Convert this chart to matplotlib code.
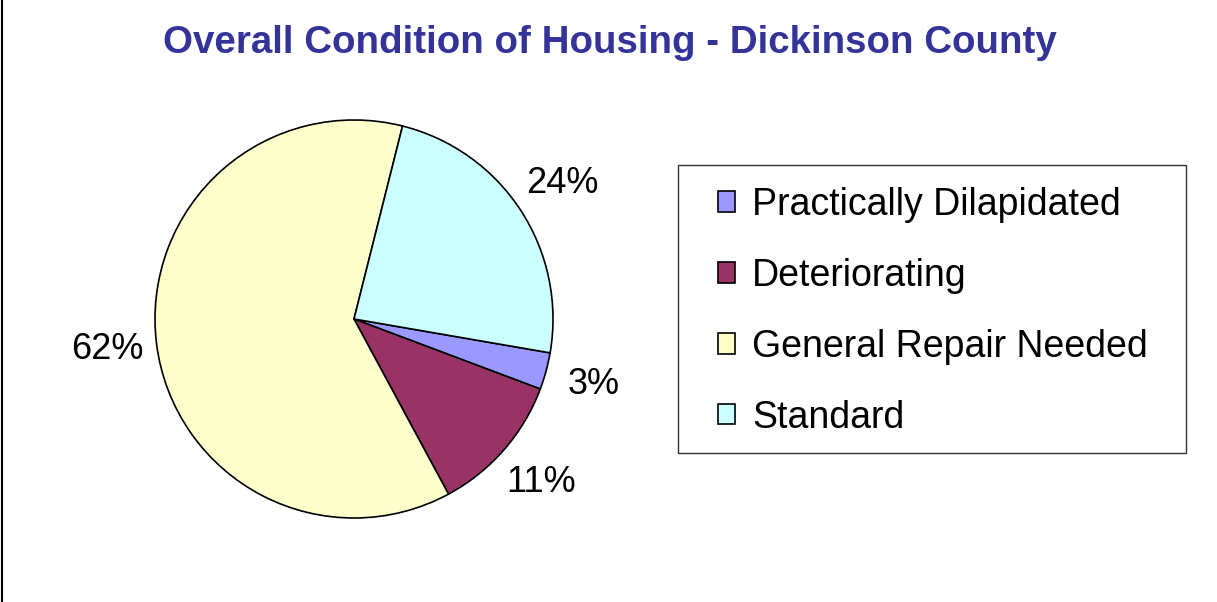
import matplotlib.pyplot as plt
from matplotlib.patches import Rectangle, Patch
from matplotlib.lines import Line2D

plt.rcParams['font.family'] = ['Liberation Sans', 'DejaVu Sans']

# Dados
categorias = ["Practically Dilapidated", "Deteriorating", "General Repair Needed", "Standard"]
valores = [3.0, 11.4, 61.8, 23.8]
cores = ["#9999FF", "#993366", "#FFFFCC", "#CCFFFF"]

W, H = 1217, 602
fig = plt.figure(figsize=(W / 100, H / 100), dpi=100)

# borda esquerda do grafico
fig.add_artist(Line2D([2 / W, 2 / W], [0, 1], transform=fig.transFigure, color="black", lw=1.5))

# Titulo
fig.text(610 / W, 1 - 43 / H, "Overall Condition of Housing - Dickinson County",
         ha="center", va="center", fontsize=27.7, fontweight="bold", color="#333399")

# Pizza
cx, cy, r = 354, 319, 199
ax = fig.add_axes([(cx - r) / W, (H - cy - r) / H, 2 * r / W, 2 * r / H])
wedges, _, autotexts = ax.pie(valores, colors=cores, startangle=-9.8, counterclock=False,
                              autopct=lambda p: f"{p:.0f}%", pctdistance=1.25,
                              wedgeprops=dict(edgecolor="black", linewidth=1.2),
                              textprops=dict(fontsize=26, color="black"))
ax.set_xlim(-1, 1)
ax.set_ylim(-1, 1)
ax.set_aspect("equal")
ax.axis("off")

# Legenda
fig.add_artist(Rectangle((678 / W, 1 - 453 / H), (1186 - 678) / W, (453 - 165) / H,
                         transform=fig.transFigure, facecolor="white", edgecolor="#333333", lw=1))
handles = [Patch(facecolor=c, edgecolor="black", linewidth=1.2) for c in cores]
fig.legend(handles, categorias, loc="upper left", bbox_to_anchor=(718 / W, 1 - 187 / H),
           frameon=False, fontsize=27, handlelength=0.46, handleheight=0.46,
           handletextpad=0.45, labelspacing=0.93, borderpad=0, borderaxespad=0)

fig.savefig("out.png", dpi=100, facecolor="white")
